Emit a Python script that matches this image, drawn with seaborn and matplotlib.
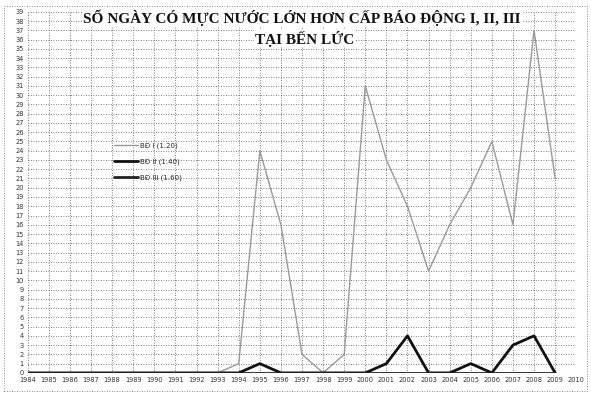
import matplotlib
matplotlib.use('Agg')
import matplotlib.pyplot as plt
import pandas as pd
import seaborn as sns

# Data (number of days per year)
years = list(range(1984, 2010))
bd1 = [0, 0, 0, 0, 0, 0, 0, 0, 0, 0, 1, 24, 16, 2, 0, 2, 31, 23, 18, 11, 16, 20, 25, 16, 37, 21]
bd2 = [0, 0, 0, 0, 0, 0, 0, 0, 0, 0, 0, 1, 0, 0, 0, 0, 0, 1, 4, 0, 0, 1, 0, 3, 4, 0]
bd3 = [0] * len(years)
series_labels = ["BĐ I (1.20)", "BĐ II (1.40)", "BĐ III (1.60)"]
x_ticks = list(range(1984, 2011))
y_ticks = list(range(0, 40))

sns.set_theme(style="white")
plt.rcParams['font.family'] = ['DejaVu Sans']

df = pd.DataFrame({"year": years, "bd1": bd1, "bd2": bd2, "bd3": bd3})

fig = plt.figure(figsize=(5.91, 3.95), dpi=100)
ax = fig.add_axes([0.047, 0.056, 0.928, 0.914])

# series: thin gray for level I, thick black for II and III
sns.lineplot(data=df, x="year", y="bd1", ax=ax, color="#9a9a9a", linewidth=1.0, label=series_labels[0])
sns.lineplot(data=df, x="year", y="bd2", ax=ax, color="#111111", linewidth=2.0, label=series_labels[1])
sns.lineplot(data=df, x="year", y="bd3", ax=ax, color="#222222", linewidth=2.0, label=series_labels[2])

ax.set_xlim(1984, 2010)
ax.set_ylim(0, 39)
ax.set_xticks(x_ticks)
ax.set_xticklabels([str(y) for y in x_ticks], fontsize=4.8, color="#333333")
ax.set_yticks(y_ticks)
ax.set_yticklabels([str(v) for v in y_ticks], fontsize=4.8, color="#333333")
ax.tick_params(axis="both", length=0, pad=3)
ax.set_xlabel("")
ax.set_ylabel("")

ax.grid(True, linestyle=(0, (1, 2)), color="#555555", linewidth=0.6)
ax.set_axisbelow(True)
for s in ax.spines.values():
    s.set_visible(False)

leg = ax.legend(loc="upper left", bbox_to_anchor=(0.145, 0.655), frameon=False,
                fontsize=5, handlelength=3.5, labelspacing=1.35, handletextpad=0.3)

title_font = ["Liberation Serif", "DejaVu Serif"]
ax.text(0.5, 1.006, "SỐ NGÀY CÓ MỰC NƯỚC LỚN HƠN CẤP BÁO ĐỘNG I, II, III",
        transform=ax.transAxes, ha="center", va="top", fontsize=11,
        fontweight="bold", family=title_font, color="#111111",
        bbox=dict(facecolor="white", edgecolor="none", pad=0.5))
ax.text(0.505, 0.948, "TẠI BẾN LỨC",
        transform=ax.transAxes, ha="center", va="top", fontsize=11,
        fontweight="bold", family=title_font, color="#111111",
        bbox=dict(facecolor="white", edgecolor="none", pad=0.5))

# dotted outer border of the chart area
fig.patches.append(plt.Rectangle((0.006, 0.01), 0.988, 0.975, transform=fig.transFigure,
                                 fill=False, linestyle=(0, (1, 2)), edgecolor="#666666", linewidth=0.6))

fig.savefig("out.png", dpi=100)
plt.close('all')
